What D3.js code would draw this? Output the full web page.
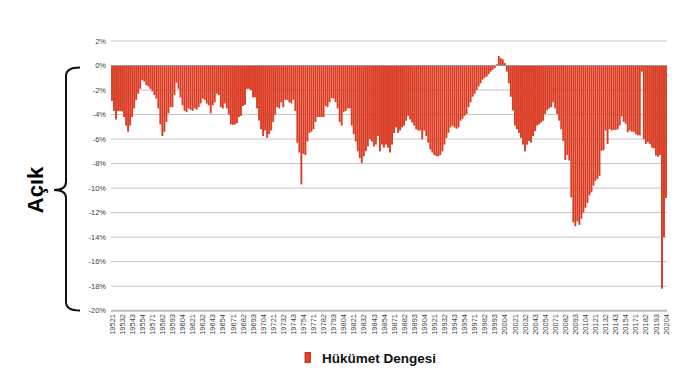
<!DOCTYPE html>
<html><head><meta charset="utf-8">
<script src="https://cdn.jsdelivr.net/npm/d3@7"></script>
<style>body{margin:0;background:#fff}svg{display:block}</style>
</head><body>
<svg id="c" width="698" height="390"></svg>
<script>
// Quarterly categories 1952Q1 .. 2020Q4 (label = year + quarter digit)
const startYear = 1952, endYear = 2020;
const categories = [];
for (let y = startYear; y <= endYear; y++) for (let q = 1; q <= 4; q++) categories.push(String(y) + q);

// Hükümet Dengesi (% of GDP)
const balance = [
 -2.9,-3.7,-4.4,-3.7,-3.7,-3.75,-4.2,-4.9,-5.4,-4.9,-4.2,-3.5,-2.8,-2.3,-1.9,-1.2,-1.3,-1.6,-1.7,-1.9,
 -2.1,-2.4,-2.7,-3.5,-4.8,-5.75,-5.4,-4.6,-3.9,-3.4,-3.4,-2.4,-1.4,-1.9,-2.6,-3.25,-3.7,-3.8,-3.5,-3.6,
 -3.7,-3.5,-3.6,-3.4,-3.1,-2.7,-2.8,-3.1,-3.25,-3.9,-3.25,-3.0,-2.3,-2.4,-3.4,-3.5,
 -3.1,-3.5,-4.0,-4.8,-4.85,-4.8,-4.7,-4.2,-4.1,-3.3,-3.2,-1.9,-1.9,-2.0,-2.6,-2.6,-3.5,-4.5,-5.2,-5.75,
 -5.3,-5.9,-5.6,-5.3,-4.6,-4.0,-3.4,-3.5,-3.0,-3.4,-2.8,-2.8,-3.0,-3.1,-2.8,-3.7,-6.3,-7.1,-9.7,-7.2,
 -7.3,-6.2,-5.5,-5.4,-5.2,-4.6,-4.2,-4.2,-4.2,-4.2,-3.3,-3.4,-3.0,-2.65,-2.7,-3.0,-3.5,
 -4.6,-4.9,-3.8,-3.7,-3.5,-3.5,-4.9,-5.6,-6.2,-7.0,-7.55,-7.95,-7.4,-7.0,-6.6,-6.0,-6.2,-6.6,-6.45,-5.75,
 -7.0,-6.45,-6.7,-6.45,-6.7,-7.1,-6.45,-5.5,-5.05,-5.5,-5.3,-5.05,-4.9,-4.5,-4.1,-4.4,-4.65,-4.9,-5.2,-5.3,
 -5.3,-6.0,-5.3,-5.75,-6.3,-6.85,-7.1,-7.3,-7.4,-7.4,-7.3,-7.0,-6.45,-5.9,-5.5,-5.05,-4.9,
 -5.05,-5.15,-5.05,-4.5,-4.35,-4.1,-3.95,-3.4,-3.0,-2.55,-2.3,-2.0,-1.7,-1.45,-1.15,-1.0,-0.9,-0.7,-0.5,-0.35,
 -0.2,0.1,0.78,0.6,0.5,0.2,-0.5,-1.45,-2.55,-3.65,-4.9,-5.2,-5.5,-5.9,-6.45,-7.0,-6.45,-6.15,-6.3,-5.75,
 -5.35,-4.9,-4.8,-4.65,-4.5,-3.95,-3.65,-3.5,-3.4,-3.0,-3.5,-3.95,-4.5,-5.2,-6.15,-7.7,-7.3,
 -7.75,-10.75,-12.8,-13.1,-12.7,-13.0,-12.5,-12.0,-11.6,-11.2,-10.6,-10.35,-9.8,-9.4,-9.25,-9.0,-6.95,-6.9,-5.3,-6.4,
 -5.2,-5.3,-5.25,-5.25,-5.2,-4.9,-4.15,-4.6,-4.75,-5.45,-5.3,-5.4,-5.4,-5.6,-5.7,-5.7,-0.5,-6.0,-6.4,-6.25,
 -6.4,-6.7,-6.75,-7.35,-7.45,-7.3,-18.2,-14.0,-10.8
];
const yTicks = [2,0,-2,-4,-6,-8,-10,-12,-14,-16,-18,-20];
const xTickLabels = categories.filter((d,i) => i % 5 === 0);
const seriesName = "Hükümet Dengesi";
const sideLabel = "Açık";

const svg = d3.select("#c");
const x = d3.scaleBand().domain(categories).range([111, 667]).paddingInner(0.06).paddingOuter(0.03);
const y = d3.scaleLinear().domain([-20, 2]).range([310.7, 41]);
const barColor = "#da3b22";

// gridlines
svg.append("g").selectAll("line").data(yTicks.filter(t => t !== 0 && t !== -20)).join("line")
  .attr("x1", 111).attr("x2", 667).attr("y1", d => y(d)).attr("y2", d => y(d))
  .attr("stroke", "#c4c4c4").attr("stroke-width", 1);
svg.append("line").attr("x1", 111).attr("x2", 667).attr("y1", y(-20)).attr("y2", y(-20))
  .attr("stroke", "#bcbcbc").attr("stroke-width", 2);

// bars
svg.append("g").selectAll("rect").data(balance).join("rect")
  .attr("x", (d,i) => x(categories[i]))
  .attr("width", x.bandwidth())
  .attr("y", d => y(Math.max(0, d)))
  .attr("height", d => Math.abs(y(d) - y(0)))
  .attr("fill", barColor);

// zero line
svg.append("line").attr("x1", 111).attr("x2", 667).attr("y1", y(0)).attr("y2", y(0))
  .attr("stroke", "#9a9a9a").attr("stroke-width", 1);

// y axis labels
svg.append("g").selectAll("text").data(yTicks).join("text")
  .attr("x", 106).attr("y", d => y(d)).attr("dy", "0.35em")
  .attr("text-anchor", "end")
  .attr("font-family", "Liberation Sans, Arial, sans-serif").attr("font-size", 7.5)
  .attr("fill", "#444").text(d => d + "%");

// x axis labels
svg.append("g").selectAll("text").data(xTickLabels).join("text")
  .attr("transform", d => `translate(${x(d) + x.bandwidth()/2},314) rotate(-90)`)
  .attr("dy", "0.35em").attr("text-anchor", "end")
  .attr("font-family", "Liberation Sans, Arial, sans-serif").attr("font-size", 7.5)
  .attr("fill", "#444").text(d => d);

// brace
svg.append("path")
  .attr("d", "M80,67.5 Q66,67.5 66,76 L66,182 Q66,190 54,190 Q66,190 66,198 L66,302 Q66,310.5 80,310.5")
  .attr("fill", "none").attr("stroke", "#111").attr("stroke-width", 2);

// side label
svg.append("text").attr("transform", "translate(42.5,190) rotate(-90)")
  .attr("text-anchor", "middle")
  .attr("font-family", "Liberation Sans, Arial, sans-serif").attr("font-weight", "bold").attr("font-size", 22)
  .attr("fill", "#000").text(sideLabel);

// legend
svg.append("rect").attr("x", 305).attr("y", 352.5).attr("width", 5.5).attr("height", 10)
  .attr("fill", "#e8401f").attr("stroke", "#a8281a").attr("stroke-width", 0.8);
svg.append("text").attr("x", 322).attr("y", 363)
  .attr("font-family", "Liberation Sans, Arial, sans-serif").attr("font-weight", "bold").attr("font-size", 13.5)
  .attr("fill", "#111").text(seriesName);
</script>
</body></html>
